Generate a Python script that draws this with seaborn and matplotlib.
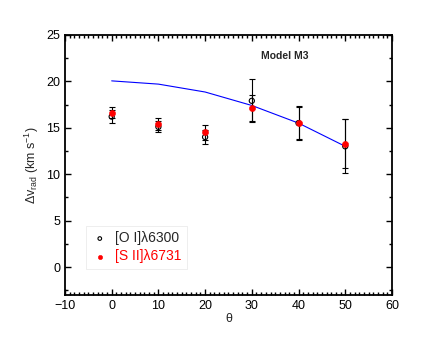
import matplotlib
matplotlib.use("Agg")
from matplotlib import pyplot as plt
from matplotlib.ticker import MultipleLocator
import seaborn as sns
import numpy as np

# Dados
theta = [0, 10, 20, 30, 40, 50]
oi_v = [16.2, 15.1, 14.0, 17.9, 15.5, 13.0]
oi_err = [0.7, 0.6, 0.8, 2.3, 1.8, 2.9]
sii_v = [16.6, 15.4, 14.5, 17.1, 15.5, 13.3]
sii_err = [0.6, 0.6, 0.8, 1.4, 1.7, 2.6]
modelo_theta = [0, 10, 20, 30, 40, 50]
modelo_v = [20.05, 19.7, 18.85, 17.4, 15.5, 13.0]

sns.set_style("white")
plt.rcParams['font.family'] = ['Liberation Sans', 'DejaVu Sans']
plt.rcParams['mathtext.fontset'] = 'custom'
plt.rcParams['mathtext.rm'] = 'Liberation Sans'
plt.rcParams['mathtext.it'] = 'Liberation Sans'
plt.rcParams['axes.edgecolor'] = 'black'
plt.rcParams['xtick.color'] = 'black'
plt.rcParams['ytick.color'] = 'black'

fig = plt.figure(figsize=(4.36, 3.49), dpi=100)
ax = fig.add_axes([0.149, 0.155, 0.75, 0.745])

# Curva do modelo
sns.lineplot(x=modelo_theta, y=modelo_v, color="blue", lw=0.8, ax=ax)

# Barras de erro
ax.errorbar(theta, oi_v, yerr=oi_err, fmt="none", ecolor="black", elinewidth=0.8, capsize=2.5, capthick=0.8)
ax.errorbar(theta, sii_v, yerr=sii_err, fmt="none", ecolor="black", elinewidth=0.8, capsize=2.5, capthick=0.8)

# Pontos
sns.scatterplot(x=theta, y=oi_v, marker="o", s=14, facecolor="none", edgecolor="black", linewidth=0.8,
                label="[O I]λ6300", ax=ax, zorder=3)
sns.scatterplot(x=theta, y=sii_v, marker="o", s=20, color="red", edgecolor="red",
                label="[S II]λ6731", ax=ax, zorder=4)

ax.text(37.0, 22.7, "Model M3", fontsize=7.5, fontweight="bold", ha="center", va="center")

ax.set_xlim(-10, 60)
ax.set_ylim(-3, 25)
ax.xaxis.set_major_locator(MultipleLocator(10))
ax.xaxis.set_minor_locator(MultipleLocator(1))
ax.yaxis.set_major_locator(MultipleLocator(5))
ax.yaxis.set_minor_locator(MultipleLocator(2.5))
ax.tick_params(which="both", direction="in", top=True, right=True, bottom=True, left=True,
               labelsize=9, width=1, color="black")
ax.tick_params(which="major", length=4.5)
ax.tick_params(which="minor", length=2.2)
for s in ax.spines.values():
    s.set_linewidth(1.3)
    s.set_color("black")

ax.set_xlabel("θ", fontsize=9, labelpad=1)
ax.set_ylabel(r"$\Delta$v$_{\rm rad}$ (km s$^{-1}$)", fontsize=9, labelpad=4)

leg = ax.legend(loc="lower left", bbox_to_anchor=(0.064, 0.1), borderaxespad=0, fontsize=10, frameon=True,
                fancybox=False, handletextpad=0.5, borderpad=0.4, labelspacing=0.3, handlelength=1.2,
                markerscale=0.7)
leg.get_frame().set_edgecolor("#e6e6e6")
leg.get_frame().set_linewidth(0.6)
leg.get_texts()[1].set_color("red")

fig.savefig("out.png", dpi=100)
